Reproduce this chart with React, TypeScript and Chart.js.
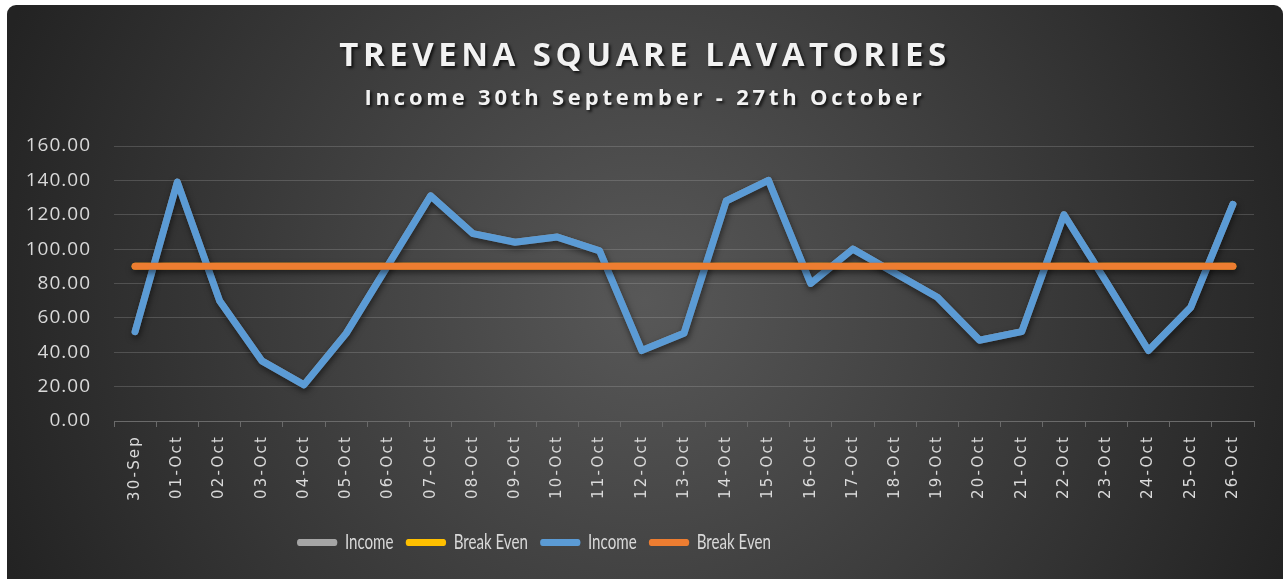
import React, { useEffect, useRef } from 'react';
import { Chart, registerables } from 'chart.js';

Chart.register(...registerables);

const TITLE = 'TREVENA SQUARE LAVATORIES';
const SUBTITLE = 'Income 30th September - 27th October';

const categories = [
  '30-Sep', '01-Oct', '02-Oct', '03-Oct', '04-Oct', '05-Oct', '06-Oct', '07-Oct', '08-Oct',
  '09-Oct', '10-Oct', '11-Oct', '12-Oct', '13-Oct', '14-Oct', '15-Oct', '16-Oct', '17-Oct',
  '18-Oct', '19-Oct', '20-Oct', '21-Oct', '22-Oct', '23-Oct', '24-Oct', '25-Oct', '26-Oct',
];

const income = [
  52, 139, 70, 35, 21, 51, 91, 131, 109,
  104, 107, 99, 41, 51, 128, 140, 80, 100,
  86, 72, 47, 52, 120, 81, 41, 66, 126,
];

const breakEven = [
  90, 90, 90, 90, 90, 90, 90, 90, 90,
  90, 90, 90, 90, 90, 90, 90, 90, 90,
  90, 90, 90, 90, 90, 90, 90, 90, 90,
];

const yMin = 0;
const yMax = 160;
const yStep = 20;

const W = 1285;
const H = 579;
const PAD_L = 7;
const PAD_R = 31;
const PAD_B = 16;
const AXIS_Y = 421;
const PLOT_LEFT = 114;
const TITLE_CENTER = 645;
const LEGEND_LEFT = 297;
const LEGEND_SX = 0.72;

const bgPlugin = {
  id: 'bgPlugin',
  beforeDraw(chart: any) {
    const ctx = chart.ctx;
    ctx.save();
    ctx.fillStyle = '#ffffff';
    ctx.fillRect(0, 0, chart.width, chart.height);
    const g = ctx.createRadialGradient(645, 300, 0, 645, 300, 690);
    g.addColorStop(0, '#585858');
    g.addColorStop(1, '#232323');
    ctx.fillStyle = g;
    ctx.beginPath();
    if (ctx.roundRect) {
      ctx.roundRect(7, 5, 1276, 590, 9);
    } else {
      ctx.rect(7, 5, 1276, 590);
    }
    ctx.fill();
    ctx.restore();

    if (!chart.$fxWrapped) {
      chart.$fxWrapped = true;
      const wrap = (obj: any, key: string, spacing: string, shadow: boolean, dx: number) => {
        if (!obj || !obj[key]) return;
        const orig = obj[key].bind(obj);
        obj[key] = (...args: any[]) => {
          ctx.save();
          if (dx) ctx.translate(dx, 0);
          (ctx as any).letterSpacing = spacing;
          if (shadow) {
            ctx.shadowColor = 'rgba(0,0,0,0.75)';
            ctx.shadowOffsetX = 2;
            ctx.shadowOffsetY = 2;
            ctx.shadowBlur = 3;
          }
          orig(...args);
          ctx.restore();
        };
      };
      const titleDx = TITLE_CENTER - (PAD_L + (W - PAD_R)) / 2;
      chart.boxes.forEach((b: any) => {
        if (b && b.options && b.options.text === TITLE) wrap(b, 'draw', '4.5px', true, titleDx);
        else if (b && b.options && b.options.text === SUBTITLE) wrap(b, 'draw', '3.8px', true, titleDx);
      });
      wrap(chart.scales.x, 'drawLabels', '2.2px', false, 0);
      wrap(chart.scales.y, 'drawLabels', '1px', false, 0);

      const lg = chart.legend;
      if (lg && lg.draw) {
        const origDraw = lg.draw.bind(lg);
        lg.draw = (...args: any[]) => {
          const hb = lg.legendHitBoxes || [];
          const minX = hb.length ? hb[0].left : 0;
          ctx.save();
          ctx.translate(LEGEND_LEFT, 0);
          ctx.scale(LEGEND_SX, 1);
          ctx.translate(-minX, 0);
          origDraw(...args);
          ctx.restore();
        };
      }
    }
  },
  beforeDatasetDraw(chart: any, args: any) {
    const ds = chart.data.datasets[args.index];
    if (ds && ds.$shadow) {
      const ctx = chart.ctx;
      ctx.shadowColor = 'rgba(0,0,0,0.55)';
      ctx.shadowBlur = 6;
      ctx.shadowOffsetX = 1;
      ctx.shadowOffsetY = 3;
    }
  },
  afterDatasetDraw(chart: any) {
    const ctx = chart.ctx;
    ctx.shadowColor = 'rgba(0,0,0,0)';
    ctx.shadowBlur = 0;
    ctx.shadowOffsetX = 0;
    ctx.shadowOffsetY = 0;
  },
};

export default function App() {
  const ref = useRef<HTMLCanvasElement | null>(null);

  useEffect(() => {
    document.body.style.margin = '0';
    const canvas = ref.current;
    if (!canvas) return;

    const mk = (label: string, data: number[], color: string, order: number, shadow: boolean) => ({
      label,
      data,
      borderColor: color,
      backgroundColor: color,
      borderWidth: 7,
      pointRadius: 0,
      pointHoverRadius: 0,
      tension: 0,
      borderCapStyle: 'round',
      borderJoinStyle: 'round',
      fill: false,
      order,
      $shadow: shadow,
    });

    const chart = new Chart(canvas, {
      type: 'line',
      data: {
        labels: categories,
        datasets: [
          mk('Income', income, '#a5a5a5', 3, false),
          mk('Break Even', breakEven, '#ffc000', 2, false),
          mk('Income', income, '#5b9bd5', 1, true),
          mk('Break Even', breakEven, '#ed7d31', 0, true),
        ] as any,
      },
      options: {
        responsive: false,
        animation: false,
        events: [],
        layout: { padding: { left: PAD_L, right: PAD_R, top: 0, bottom: PAD_B } },
        plugins: {
          title: {
            display: true,
            text: TITLE,
            color: '#f2f2f2',
            font: { family: "'Open Sans', sans-serif", size: 33, weight: 'bold', lineHeight: 1.2 },
            padding: { top: 37, bottom: 4 },
          },
          subtitle: {
            display: true,
            text: SUBTITLE,
            color: '#f2f2f2',
            font: { family: "'Open Sans', sans-serif", size: 22, weight: 'bold', lineHeight: 1.2 },
            padding: { top: 5, bottom: 34 },
          },
          legend: {
            display: true,
            position: 'bottom',
            labels: {
              color: '#d9d9d9',
              font: { family: "Lato, sans-serif", size: 21 },
              boxWidth: 56,
              boxHeight: 7,
              padding: 17,
              generateLabels: (c: any) =>
                c.data.datasets.map((d: any, i: number) => ({
                  text: d.label,
                  fillStyle: d.borderColor,
                  strokeStyle: d.borderColor,
                  lineWidth: 0,
                  hidden: false,
                  datasetIndex: i,
                  borderRadius: 3.5,
                  fontColor: '#d9d9d9',
                })),
              useBorderRadius: true,
              borderRadius: 3.5,
            },
          },
          tooltip: { enabled: false },
        },
        scales: {
          x: {
            type: 'category',
            offset: true,
            grid: {
              display: true,
              offset: true,
              drawOnChartArea: false,
              drawTicks: true,
              tickLength: 6,
              color: '#6a6a6a',
              lineWidth: 1,
            },
            border: { display: true, color: '#6a6a6a', width: 1 },
            ticks: {
              color: '#d9d9d9',
              font: { family: "'DejaVu Sans', sans-serif", size: 15 },
              minRotation: 90,
              maxRotation: 90,
              autoSkip: false,
              padding: 8,
            },
            afterFit: (s: any) => {
              const lh = s.chart.legend ? s.chart.legend.height : 0;
              s.height = H - AXIS_Y - lh - PAD_B;
            },
          },
          y: {
            type: 'linear',
            min: yMin,
            max: yMax,
            grid: {
              display: true,
              drawTicks: false,
              color: 'rgba(200,200,200,0.22)',
              lineWidth: 1,
            },
            border: { display: false },
            ticks: {
              stepSize: yStep,
              color: '#d9d9d9',
              font: { family: "'Open Sans', sans-serif", size: 19 },
              padding: 23,
              callback: (v: any) => Number(v).toFixed(2),
            },
            afterFit: (s: any) => {
              s.width = PLOT_LEFT - PAD_L;
            },
          },
        },
      },
      plugins: [bgPlugin],
    } as any);

    return () => {
      chart.destroy();
    };
  }, []);

  return (
    <div style={{ position: 'fixed', left: 0, top: 0, width: W, height: H }}>
      <canvas ref={ref} width={W} height={H} style={{ display: 'block', width: W, height: H }} />
    </div>
  );
}
